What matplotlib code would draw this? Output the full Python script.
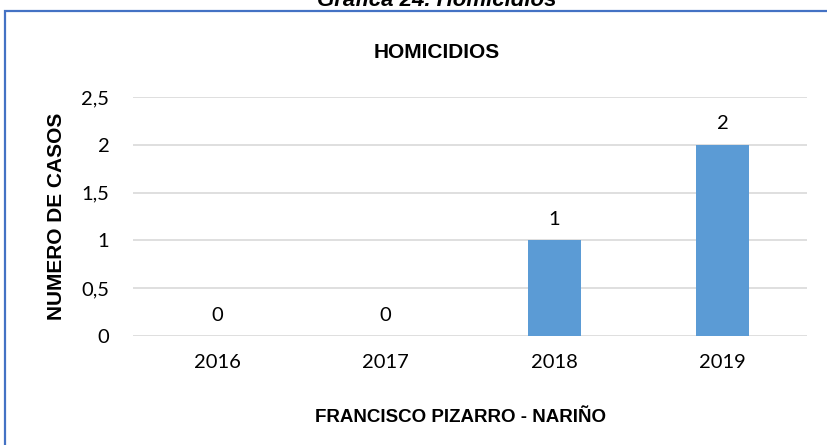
import matplotlib.pyplot as plt
from matplotlib.patches import Rectangle

# data
years = ['2016', '2017', '2018', '2019']
casos = [0, 0, 1, 2]
y_ticks = [0, 0.5, 1, 1.5, 2, 2.5]
y_tick_labels = ['0', '0,5', '1', '1,5', '2', '2,5']

W, H = 828, 445
fig = plt.figure(figsize=(W / 100, H / 100), dpi=100)

# blue frame around the chart (right and bottom side cut off)
fig.patches.append(Rectangle((5 / W, -0.1), 1.2, 1 - 11 / H + 0.1,
                             transform=fig.transFigure, fill=False,
                             edgecolor='#4472C4', linewidth=1.6))

# caption cut at the top
fig.text(437 / W, 1 - 1 / H, 'Gráfica 24. Homicidios', ha='center', va='center',
         fontsize=16, fontweight='bold', fontstyle='italic', family='Liberation Sans')

# plot area
ax = fig.add_axes([133 / W, 1 - 336 / H, (807 - 133) / W, (336 - 97) / H])
x = range(len(years))
ax.bar(x, casos, width=0.315, color='#5B9BD5', zorder=3)
for i, v in zip(x, casos):
    ax.text(i, v + 0.13, str(v), ha='center', va='bottom', fontsize=14.5, family='Lato')

ax.set_xlim(-0.5, 3.5)
ax.set_ylim(0, 2.5)
ax.set_yticks(y_ticks)
ax.set_yticklabels(y_tick_labels, family='Lato', fontsize=14.5)
ax.set_xticks(list(x))
ax.set_xticklabels(years, family='Lato', fontsize=14.5)
ax.tick_params(length=0)
ax.tick_params(axis='y', pad=17)
ax.tick_params(axis='x', pad=13)
ax.grid(axis='y', color='#D9D9D9', linewidth=1.2, zorder=0)
for s in ax.spines.values():
    s.set_visible(False)

fig.text(437 / W, 1 - 52 / H, 'HOMICIDIOS', ha='center', va='center',
         fontsize=15, fontweight='bold', family='Liberation Sans')
fig.text(57 / W, 1 - 216 / H, 'NUMERO DE CASOS', ha='center', va='center', rotation=90,
         fontsize=15, fontweight='bold', family='Liberation Sans')
fig.text(461 / W, 1 - 418 / H, 'FRANCISCO PIZARRO - NARIÑO', ha='center', va='center',
         fontsize=13.5, fontweight='bold', family='Liberation Sans')

fig.savefig('out.png', dpi=100)
